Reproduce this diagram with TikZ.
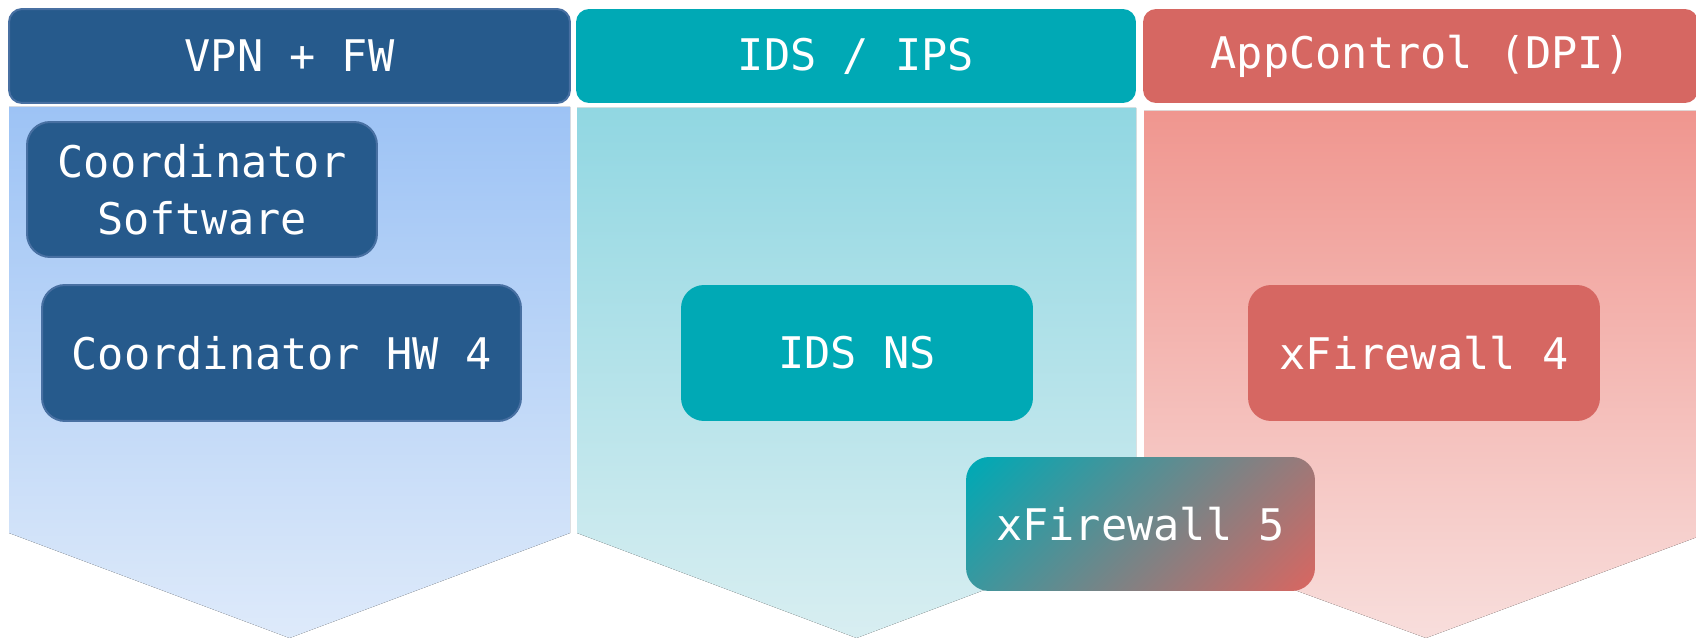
\documentclass[tikz,border=0pt]{standalone}
\usepackage{fontspec}
\setmonofont{DejaVu Sans Mono}
\usepackage{tikz}
\usetikzlibrary{positioning}

\definecolor{vpnblue}{RGB}{38,90,140}
\definecolor{vpnline}{RGB}{72,112,162}
\definecolor{vpntop}{RGB}{157,195,245}
\definecolor{vpnbot}{RGB}{222,234,250}
\definecolor{idsteal}{RGB}{0,169,181}
\definecolor{idstop}{RGB}{145,215,226}
\definecolor{idsbot}{RGB}{216,238,241}
\definecolor{appred}{RGB}{214,103,98}
\definecolor{apptop}{RGB}{240,150,143}
\definecolor{appbot}{RGB}{248,222,220}

\pgfdeclarehorizontalshading{fwfade}{100bp}{color(0bp)=(idsteal); color(16bp)=(idsteal); color(84bp)=(appred); color(100bp)=(appred)}

\newcommand{\boxfont}{\ttfamily\fontsize{24.8}{32.4}\selectfont}

\begin{document}
\begin{tikzpicture}[x=0.02cm,y=-0.02cm,
    head/.style={rounded corners=0.26cm, inner sep=0pt, minimum height=1.88cm, text=white, font=\boxfont},
    unit/.style={rounded corners=0.46cm, inner sep=0pt, minimum height=2.72cm, text=white, font=\boxfont, align=center}]
\useasboundingbox (0,0) rectangle (1696,638);

% the three columns
\fill[top color=vpntop, bottom color=vpnbot]
    (9,107) -- (570,107) -- (570,533) -- (289.5,638) -- (9,533) -- cycle;
\fill[top color=idstop, bottom color=idsbot]
    (577,108) -- (1136,108) -- (1136,533) -- (856.5,638) -- (577,533) -- cycle;
\fill[top color=apptop, bottom color=appbot]
    (1144,111) -- (1708,111) -- (1708,533) -- (1426,638) -- (1144,535) -- cycle;

% headers
\node[head, fill=vpnblue, draw=vpnline, line width=0.04cm, minimum width=11.22cm] (vpn) at (289.5,56) {VPN + FW};
\node[head, fill=idsteal, minimum width=11.2cm] (ids) at (856,56) {IDS / IPS};
\node[head, fill=appred, minimum width=11.1cm] (app) at (1420.5,56) {AppControl (DPI)};

% products
\node[unit, fill=vpnblue, draw=vpnline, line width=0.04cm, minimum width=7cm, minimum height=2.7cm] (coordsw) at (202,189.5) {Coordinator\\Software};
\node[unit, fill=vpnblue, draw=vpnline, line width=0.04cm, minimum width=9.58cm] (coordhw) at (281.5,353) {Coordinator HW 4};
\node[unit, fill=idsteal, minimum width=7.04cm] (idsns) at (857,353) {IDS NS};
\node[unit, fill=appred, minimum width=7.04cm] (xfw4) at (1424,353) {xFirewall 4};
\node[unit, shading=fwfade, shading angle=-45, minimum width=6.98cm, minimum height=2.68cm] (xfw5) at (1140.5,524) {xFirewall 5};
\end{tikzpicture}
\end{document}
